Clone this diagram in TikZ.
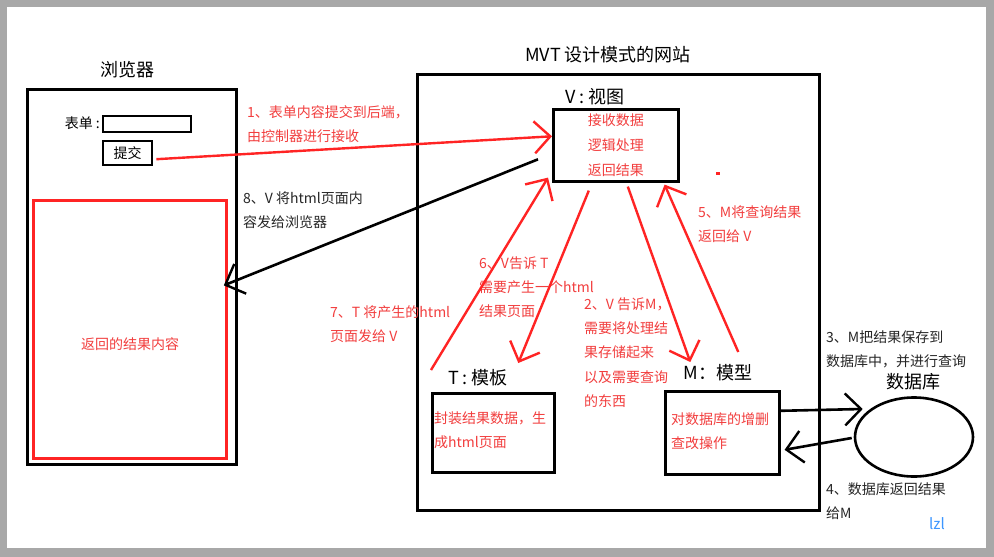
\documentclass[tikz,border=0pt]{standalone}
\usepackage{fontspec}
\setmainfont{Noto Sans CJK SC}
\usetikzlibrary{arrows.meta,calc,shapes.geometric}
\definecolor{frame}{RGB}{168,168,168}
\definecolor{lred}{RGB}{255,36,36}
\definecolor{tred}{RGB}{242,62,62}
\definecolor{lzlblue}{RGB}{60,150,255}
\tikzset{
  box/.style={draw=black,line width=2.6pt,inner sep=0pt},
  rbox/.style={draw=lred,line width=2.8pt,inner sep=0pt},
  title/.style={font=\fontsize{18}{20}\selectfont,inner sep=0pt},
  lbl/.style={font=\fontsize{14}{24.3}\selectfont,align=left,anchor=west,inner sep=0pt},
  redlbl/.style={lbl,text=tred},
  blklbl/.style={lbl,text=black!85},
  head/.style={-{Straight Barb[length=16pt,width=32pt,line width=2.4pt]}},
  redarrow/.style={draw=lred,line width=2.4pt,head},
  blkarrow/.style={draw=black,line width=2.6pt,head},
}
\begin{document}
\begin{tikzpicture}[x=1pt,y=-1pt]
\useasboundingbox (0,0) rectangle (994,557);
\fill[frame] (0,0) rectangle (994,557);
\fill[white] (7,7) rectangle (986,548);

% browser
\node[title] (btitle) at (127,70) {浏览器};
\node[box,minimum width=209pt,minimum height=375pt,anchor=north west] (browser) at (26,88) {};
\node[font=\fontsize{14}{16}\selectfont,inner sep=0pt,anchor=east] (formlbl) at (100,123) {表单 :};
\node[box,line width=2.2pt,minimum width=88pt,minimum height=16pt,anchor=north west] (input) at (102,115) {};
\node[box,line width=2.4pt,minimum width=49pt,minimum height=24pt,anchor=north west,font=\fontsize{14}{16}\selectfont] (submit) at (102,140) {提交};
\node[rbox,minimum width=193pt,minimum height=258pt,anchor=north west] (result) at (32,199) {};
\node[font=\fontsize{14}{16}\selectfont,text=tred,inner sep=0pt] (resulttxt) at (130,344) {返回的结果内容};

% website
\node[title] (wtitle) at (608,55) {MVT 设计模式的网站};
\node[box,minimum width=402pt,minimum height=436pt,anchor=north west] (site) at (416,73) {};

\node[title] (vtitle) at (595,97) {V : 视图};
\node[box,minimum width=125pt,minimum height=72pt,anchor=north west,align=center,text=tred,font=\fontsize{14}{25}\selectfont] (vbox) at (552,108) {接收数据\\逻辑处理\\返回结果};

\node[title] (ttitle) at (478,378) {T : 模板};
\node[box,minimum width=122pt,minimum height=79pt,anchor=north west] (tbox) at (431,392) {};
\node[redlbl] (ttxt) at (434,430) {封装结果数据，生\\成html页面};

\node[title] (mtitle) at (718,373) {M：模型};
\node[box,minimum width=114pt,minimum height=83pt,anchor=north west] (mbox) at (664,390) {};
\node[redlbl] (mtxt) at (671,431.5) {对数据库的增删\\查改操作};

% database
\node[title] (dbtitle) at (913,382) {数据库};
\node[ellipse,draw=black,line width=2.6pt,minimum width=118pt,minimum height=79pt] (db) at (914,437) {};

% labels
\node[redlbl] (l1) at (247,124) {1、表单内容提交到后端，\\由控制器进行接收};
\node[blklbl] (l8) at (243,210.5) {8、V 将html页面内\\容发给浏览器};
\node[redlbl] (l5) at (698,224) {5、M将查询结果\\返回给 V};
\node[redlbl] (l6) at (479,287) {6、V告诉 T\\需要产生一个html\\结果页面};
\node[redlbl] (l7) at (330,324.5) {7、T 将产生的html\\页面发给 V};
\node[redlbl] (l2) at (584,352.5) {2、V 告诉M，\\需要将处理结\\果存储起来\\以及需要查询\\的东西};
\node[blklbl] (l3) at (826,349.5) {3、M把结果保存到\\数据库中，并进行查询};
\node[blklbl] (l4) at (826,501.5) {4、数据库返回结果\\给M};
\node[font=\fontsize{15}{16}\selectfont,text=lzlblue,inner sep=0pt] (lzl) at (937,524) {lzl};

\fill[lred] (716,172) rectangle (720,175);

% connectors
\draw[redarrow] ($(submit.east)+(3,6)$) -- ($(vbox.west)+(0,-9)$);
\draw[blkarrow] ($(vbox.west)+(-14,14)$) -- ($(result.east)+(-4,-44)$);
\draw[redarrow] ($(tbox.north west)+(0,-22)$) -- ($(vbox.south west)+(-4,-5)$);
\draw[redarrow] ($(vbox.south)+(-27,8)$) -- ($(tbox.north)+(25,-29)$);
\draw[redarrow] ($(vbox.south)+(12,4)$) -- ($(mbox.north)+(-32,-28)$);
\draw[redarrow] ($(mbox.north)+(16,-38)$) -- ($(vbox.south east)+(-15,2)$);
\draw[blkarrow] ($(mbox.east)+(0,-22)$) -- ($(db.west)+(9,-28)$);
\draw[blkarrow] ($(db.west)+(-2,1)$) -- ($(mbox.east)+(4,17)$);
\end{tikzpicture}
\end{document}
